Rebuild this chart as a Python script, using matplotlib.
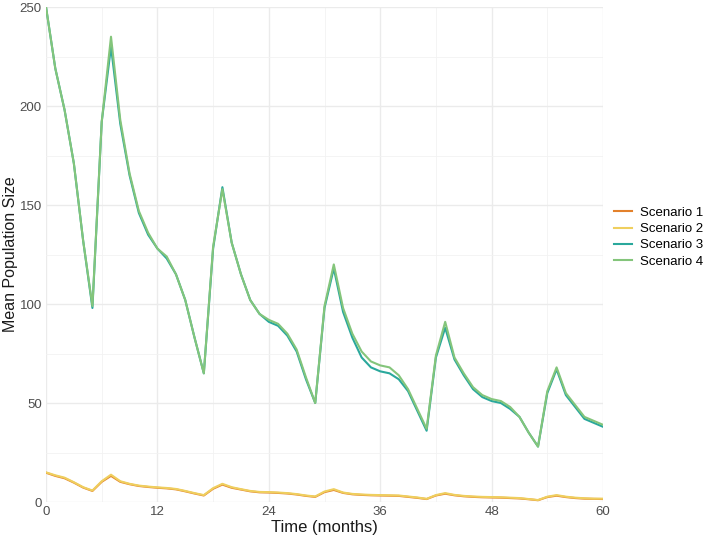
import numpy as np
import matplotlib
matplotlib.use("Agg")
from matplotlib import pyplot as plt
from matplotlib import ticker as mticker

plt.rcParams["font.family"] = ["Liberation Sans", "DejaVu Sans"]

# Monthly time points
months = np.arange(0, 61)

# Mean population size per scenario
scenario1 = [14.8, 13.2, 12.0, 9.8, 7.3, 5.6, 10.2, 13.2, 10.2, 9.0, 8.1, 7.6, 7.2, 6.9, 6.4, 5.4, 4.3, 3.3, 6.7, 8.8, 7.2, 6.3, 5.4, 4.9,
             4.8, 4.6, 4.3, 3.8, 3.1, 2.6, 5.0, 6.1, 4.6, 3.9, 3.6, 3.4, 3.3, 3.2, 3.1, 2.6, 2.1, 1.5, 3.3, 4.2, 3.4, 2.9,
             2.6, 2.4, 2.3, 2.2, 2.0, 1.8, 1.4, 0.9, 2.5, 3.2, 2.5, 2.0, 1.7, 1.6, 1.5]
scenario2 = [15.0, 13.5, 12.3, 10.0, 7.5, 5.8, 10.5, 13.8, 10.5, 9.2, 8.3, 7.8, 7.4, 7.1, 6.6, 5.6, 4.5, 3.5, 7.0, 9.2, 7.5, 6.5, 5.6, 5.1,
             5.0, 4.8, 4.5, 4.0, 3.3, 2.8, 5.3, 6.5, 4.8, 4.1, 3.8, 3.6, 3.5, 3.4, 3.3, 2.8, 2.3, 1.6, 3.5, 4.5, 3.6, 3.1,
             2.8, 2.6, 2.5, 2.4, 2.2, 2.0, 1.5, 1.0, 2.7, 3.5, 2.7, 2.2, 1.9, 1.7, 1.7]
scenario3 = [250, 219, 198, 171, 132, 98, 192, 230, 191, 165, 146, 135, 128, 123, 115, 102, 83, 65, 128, 159, 131, 115, 102, 95,
             91, 89, 84, 76, 62, 50, 98, 118, 96, 83, 73, 68, 66, 65, 62, 56, 46, 36, 73, 88, 72, 64,
             57, 53, 51, 50, 47, 43, 35, 28, 55, 67, 54, 48, 42, 40, 38]
scenario4 = [250, 219, 198, 171, 132, 99, 192, 235, 193, 166, 147, 136, 128, 124, 115, 102, 83, 65, 129, 158, 131, 115, 102, 95,
             92, 90, 85, 77, 63, 50, 99, 120, 98, 85, 76, 71, 69, 68, 64, 57, 47, 37, 74, 91, 73, 65,
             58, 54, 52, 51, 48, 43, 35, 28, 56, 68, 55, 49, 43, 41, 39]

labels = ["Scenario 1", "Scenario 2", "Scenario 3", "Scenario 4"]
colors = ["#E3812B", "#EFCF5E", "#2AA89C", "#84C57B"]

fig = plt.figure(figsize=(7.09, 5.39), dpi=100)
ax = fig.add_axes([0.0649, 0.0686, 0.7856, 0.9184])

for vals, lab, col in zip([scenario1, scenario2, scenario3, scenario4], labels, colors):
    ax.plot(months, vals, color=col, linewidth=1.5, label=lab)

## X
ax.set_xlim(0, 60)
ax.xaxis.set_major_locator(mticker.MultipleLocator(12))
ax.xaxis.set_minor_locator(mticker.MultipleLocator(6))
ax.set_xlabel("Time (months)", fontsize=12, color="#1a1a1a", labelpad=1)

## Y
ax.set_ylim(0, 250)
ax.yaxis.set_major_locator(mticker.MultipleLocator(50))
ax.yaxis.set_minor_locator(mticker.MultipleLocator(25))
ax.set_ylabel("Mean Population Size", fontsize=11.5, color="#1a1a1a", labelpad=1)

# Minimal theme: no spines, light grids
for sp in ax.spines.values():
    sp.set_visible(False)
ax.tick_params(which="both", length=0, labelsize=9.5, labelcolor="#4d4d4d", pad=3)
ax.set_axisbelow(True)
ax.grid(which="major", color="#EBEBEB", linewidth=1.0)
ax.grid(which="minor", color="#F2F2F2", linewidth=0.6)

# Legend on the right
ax.legend(loc="center left", bbox_to_anchor=(1.0, 0.535), frameon=False, fontsize=9.5,
          handlelength=1.4, labelspacing=0.3, handletextpad=0.6, borderaxespad=0.4)

fig.savefig("out.png", dpi=100)
